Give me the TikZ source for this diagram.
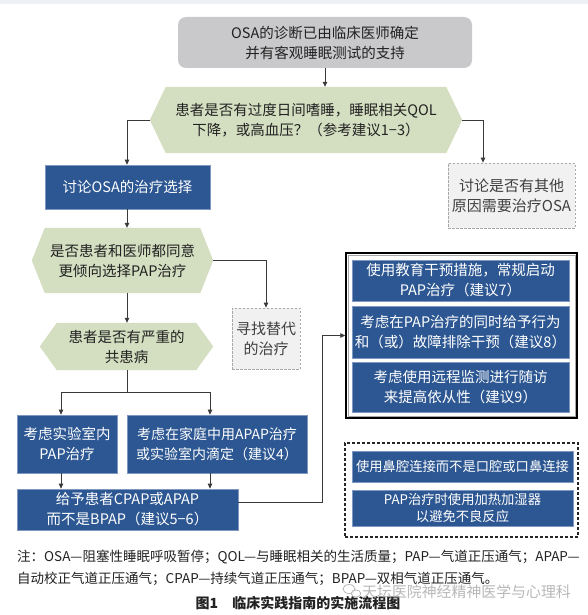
\documentclass[tikz,border=0pt]{standalone}
\usepackage{fontspec}
\setmainfont{Noto Sans CJK SC}
\usetikzlibrary{arrows.meta,calc,backgrounds}
\definecolor{pblue}{HTML}{2D5792}
\definecolor{pedge}{HTML}{7E98C2}
\definecolor{pgreen}{HTML}{D4DEC0}
\definecolor{pgray}{HTML}{C9C9CC}
\definecolor{dfill}{HTML}{F1F1F1}
\definecolor{dline}{HTML}{A8A8A8}
\definecolor{lcol}{HTML}{3A3A3A}
\definecolor{tcol}{HTML}{222222}
\definecolor{topstrip}{HTML}{EDF0F4}
\newcommand\hexback[2]{\begin{pgfonlayer}{background}\fill[pgreen] (#1.west) -- ([xshift=#2pt]#1.north west) -- ([xshift=-#2pt]#1.north east) -- (#1.east) -- ([xshift=-#2pt]#1.south east) -- ([xshift=#2pt]#1.south west) -- cycle;\end{pgfonlayer}}
\tikzset{
 base/.style={align=center, inner sep=0pt, text=tcol},
 wh/.style 2 args={minimum width=#1pt, minimum height=#2pt},
 bluebox/.style={base, fill=pblue, draw=pedge, line width=0.7pt, text=white},
 graybox/.style={base, fill=pgray, rounded corners=8pt},
 hexnode/.style={base},
 dashbox/.style={base, fill=dfill, draw=dline, dash pattern=on 2.5pt off 1.5pt, line width=0.8pt, text=black!75, font=\fontsize{15}{20}\selectfont},
 arr/.style={draw=lcol, line width=0.8pt, -{Triangle[length=5pt,width=4.5pt]}},
 conn/.style={draw=lcol, line width=0.8pt},
 notetext/.style={anchor=west, inner sep=0pt, text=tcol, font=\fontsize{13.5}{16}\selectfont},
}
\begin{document}
\begin{tikzpicture}[x=1pt,y=-1pt, font=\fontsize{14.5}{20}\selectfont]
\useasboundingbox (0,0) rectangle (588,615);
\begin{pgfonlayer}{background}
\fill[white] (0,0) rectangle (588,615);
\fill[topstrip] (0,0) rectangle (588,4);
\end{pgfonlayer}

% left column
\node[graybox, wh={294}{51}] (top) at (325,42.5) {OSA的诊断已由临床医师确定\\并有客观睡眠测试的支持};
\node[hexnode, wh={312}{66}] (h1) at (306,120) {患者是否有过度日间嗜睡，睡眠相关QOL\\下降，或高血压？（参考建议1−3）};
\hexback{h1}{16}
\node[bluebox, wh={165}{44}] (b1) at (127.5,187) {讨论OSA的治疗选择};
\node[dashbox, wh={127}{65}] (d1) at (511.5,195.5) {讨论是否有其他\\原因需要治疗OSA};
\node[hexnode, wh={181}{65}] (h2) at (122.5,260.5) {是否患者和医师都同意\\更倾向选择PAP治疗};
\hexback{h2}{13}
\node[dashbox, wh={68}{61}] (d2) at (266,338.5) {寻找替代\\的治疗};
\node[hexnode, wh={173}{47}] (h3) at (126.5,346.5) {患者是否有严重的\\共患病};
\hexback{h3}{17}
\node[bluebox, wh={100}{58}] (b2) at (67,444) {考虑实验室内\\PAP治疗};
\node[bluebox, wh={180}{58}, font=\fontsize{14}{20}\selectfont] (b3) at (217,444) {考虑在家庭中用APAP治疗\\或实验室内滴定（建议4）};
\node[bluebox, wh={221}{41}] (b4) at (127.5,509.5) {给予患者CPAP或APAP\\而不是BPAP（建议5−6）};

% right groups
\node[draw=black, line width=1.4pt, wh={231}{165}] (O1) at (461.5,335.5) {};
\draw[gray!70, line width=0.5pt] ([shift={(2.6pt,-2.6pt)}]O1.north west) rectangle ([shift={(-2.6pt,2.6pt)}]O1.south east);
\node[bluebox, wh={217}{41}] (A) at (460.5,280.5) {使用教育干预措施，常规启动\\PAP治疗（建议7）};
\node[bluebox, wh={217}{52}] (B) at (460.5,332) {考虑在PAP治疗的同时给予行为\\和（或）故障排除干预（建议8）};
\node[bluebox, wh={217}{50}] (C) at (460.5,387) {考虑使用远程监测进行随访\\来提高依从性（建议9）};

\node[draw=black!85, line width=1.4pt, dash pattern=on 3pt off 2pt, wh={233}{94}] (O2) at (461.5,490) {};
\node[bluebox, wh={221}{31}, font=\fontsize{13.3}{17}\selectfont] (D) at (462.5,466.5) {使用鼻腔连接而不是口腔或口鼻连接};
\node[bluebox, wh={221}{36}, font=\fontsize{13.3}{17}\selectfont] (E) at (462.5,508) {PAP治疗时使用加热加湿器\\以避免不良反应};

% connectors
\coordinate (vx) at (127,0);
\coordinate (k1) at (483,0);
\coordinate (sp) at (127,392);
\coordinate (j1) at (322,0);
\draw[arr] (top.south) -- (top.south |- h1.north);
\draw[arr] (h1.west) -| (vx |- b1.north);
\draw[arr] (h1.east) -| (k1 |- d1.north);
\draw[arr] (vx |- b1.south) -- (vx |- h2.north);
\draw[arr] (h2.east) -| (d2.north);
\draw[arr] (vx |- h2.south) -- (vx |- h3.north);
\draw[conn] (vx |- h3.south) -- (sp);
\draw[arr] (sp) -| ([xshift=-6pt]b2.north);
\draw[arr] (sp) -| ([xshift=-7pt]b3.north);
\draw[arr] ([xshift=-6pt]b2.south) -- ([xshift=-6pt]b2.south |- b4.north);
\draw[arr] ([xshift=-7pt]b3.south) -- ([xshift=-7pt]b3.south |- b4.north);
\draw[arr] ([yshift=7.5pt]b4.east) -| (j1 |- O1.west) -- (O1.west);

% notes
\node[notetext] (n1) at (17,557) {注：OSA—阻塞性睡眠呼吸暂停；QOL—与睡眠相关的生活质量；PAP—气道正压通气；APAP—};
\node[notetext] (n2) at (17,579) {自动校正气道正压通气；CPAP—持续气道正压通气；BPAP—双相气道正压通气。};
\node[font=\bfseries\fontsize{14}{18}\selectfont, text=tcol, inner sep=0pt] (cap) at (298,603) {图1\hspace{1em}临床实践指南的实施流程图};

% watermark
\draw[gray!60, line width=0.7pt] (349,589) ellipse (6 and 4.5);
\draw[gray!60, line width=0.7pt, fill=white, fill opacity=0.6] (356,593.5) ellipse (4.8 and 3.6);
\node[text=gray!65, opacity=0.85, inner sep=0pt, font=\fontsize{14.9}{18}\selectfont] (wm) at (466.5,592) {天坛医院神经精神医学与心理科};
\end{tikzpicture}
\end{document}
